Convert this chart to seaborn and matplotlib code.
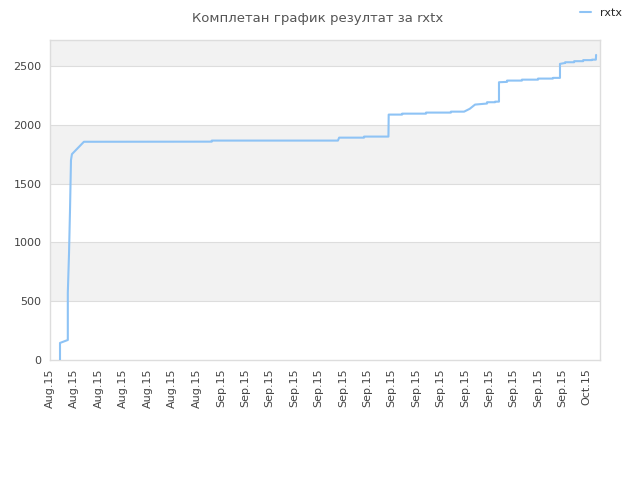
import matplotlib
matplotlib.use("Agg")
import matplotlib.pyplot as plt
import seaborn as sns
import pandas as pd

# x in tick units (one unit per date tick), y = result
xs = [0.41, 0.41, 0.73, 0.73, 0.78, 0.82, 0.86, 0.90, 1.39, 6.63, 6.63, 11.80,
      11.85, 12.87, 12.87, 13.87, 13.88, 14.43, 14.43, 15.41, 15.41, 16.43,
      16.43, 16.97, 17.20, 17.42, 17.91, 17.91, 18.24, 18.24, 18.40, 18.40,
      18.73, 18.73, 19.34, 19.34, 20.00, 20.00, 20.61, 20.61, 20.90, 20.90,
      21.11, 21.11, 21.48, 21.48, 21.85, 21.85, 22.21, 22.21, 22.37, 22.38]
ys = [0, 145, 170, 570, 910, 1275, 1700, 1750, 1855, 1856, 1865, 1865,
      1890, 1890, 1899, 1899, 2086, 2086, 2094, 2094, 2103, 2103,
      2111, 2111, 2135, 2171, 2180, 2191, 2191, 2196, 2196, 2361,
      2364, 2375, 2375, 2383, 2383, 2392, 2392, 2398, 2398, 2517,
      2525, 2531, 2531, 2540, 2540, 2549, 2549, 2553, 2553, 2593]
tick_labels = ["Aug.15"] * 7 + ["Sep.15"] * 15 + ["Oct.15"]
yticks = [0, 500, 1000, 1500, 2000, 2500]

df = pd.DataFrame({"x": xs, "y": ys, "s": "rxtx"})

sns.set_style("white")
plt.rcParams["font.family"] = ["DejaVu Sans"]

fig = plt.figure(figsize=(6.4, 4.8), dpi=100)
ax = fig.add_axes([50 / 640, 0.25, 550 / 640, 320 / 480])

ymax = 2720
# alternating bands
for lo in [500, 1500, 2500]:
    ax.axhspan(lo, min(lo + 500, ymax), color="#f2f2f2", lw=0, zorder=0)
for v in yticks[1:]:
    ax.axhline(v, color="#dddddd", lw=0.8, zorder=1)

sns.lineplot(data=df, x="x", y="y", hue="s", palette=["#8ec3f5"],
             estimator=None, sort=False, linewidth=1.5, ax=ax, zorder=3)

ax.set_xlim(0, 22.54)
ax.set_ylim(0, ymax)
ax.set_xticks(range(len(tick_labels)))
ax.set_xticklabels(tick_labels, rotation=90, fontsize=8, color="#444444")
ax.set_yticks(yticks)
ax.set_yticklabels([str(v) for v in yticks], fontsize=8, color="#444444")
ax.tick_params(length=0, pad=6)
ax.set_xlabel("")
ax.set_ylabel("")
for sp in ax.spines.values():
    sp.set_color("#dddddd")
    sp.set_linewidth(1)

h, l = ax.get_legend_handles_labels()
ax.legend_.remove()
fig.legend(h, l, loc="upper right", bbox_to_anchor=(0.987, 1.005), frameon=False,
           fontsize=8, handlelength=1.0, handletextpad=0.8)

fig.text(0.497, 0.975, "Комплетан график резултат за rxtx", ha="center",
         va="top", fontsize=9.5, color="#555555")

fig.savefig("out.png", dpi=100)
